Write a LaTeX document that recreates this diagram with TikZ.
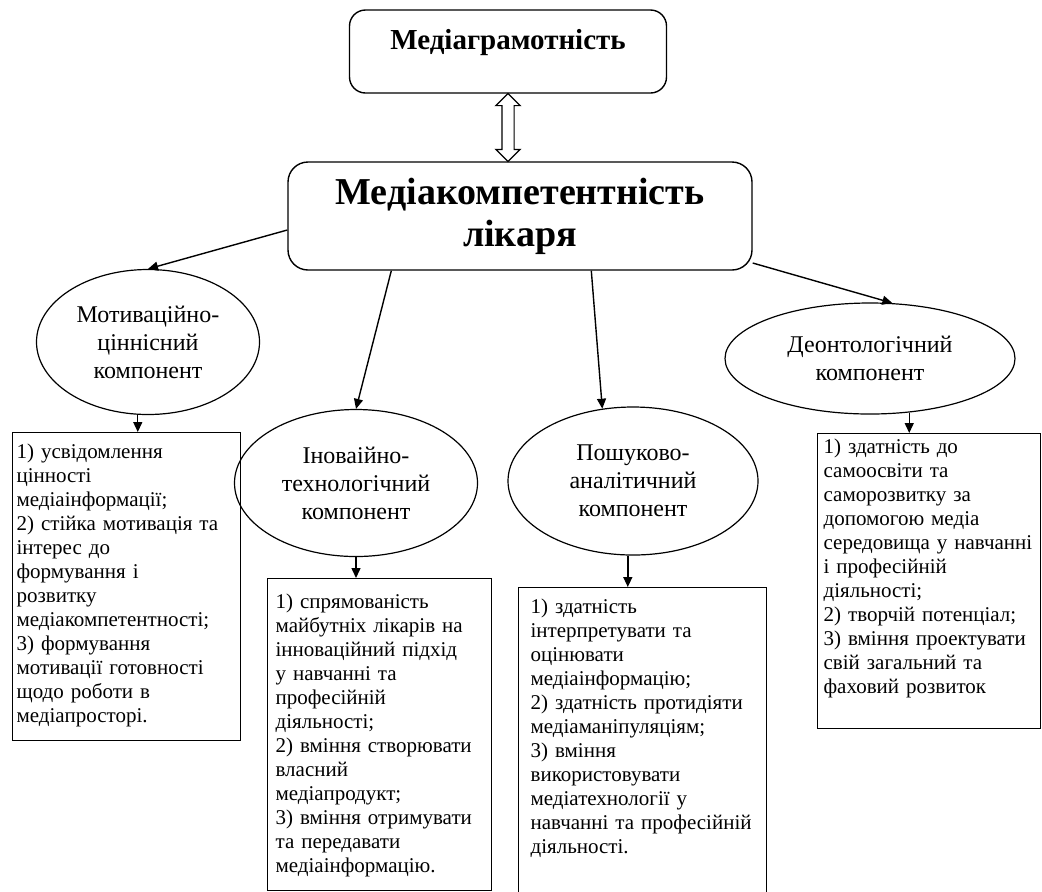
\documentclass[tikz,border=0pt]{standalone}
\usepackage{fontspec}
\setmainfont{Liberation Serif}
\usetikzlibrary{shapes.geometric,shapes.arrows,arrows.meta,calc}

\begin{document}
\begin{tikzpicture}[x=0.5pt,y=-0.5pt,%
% common options for the rounded boxes:
rbox/.style = {draw, rounded corners=8pt, align=center, line width=0.7pt},
% common options for the ellipses:
oval/.style = {ellipse, draw, align=center, inner sep=0, line width=0.6pt,
            font=\fontsize{12}{14}\selectfont},
% common options for the lists:
listbox/.style = {draw, align=left, anchor=north west, text height=8pt,
            font=\fontsize{10.5}{12}\selectfont, line width=0.6pt},
arr/.style = {-{Triangle[length=5pt,width=4.5pt]}, line width=0.7pt}]
\useasboundingbox (0,0) rectangle (1042,891);

\node[rbox, minimum width=158.5pt, minimum height=41.5pt, text depth=12pt,
      font=\fontsize{14.5}{17}\selectfont\bfseries] (T) at (508,51.5) {Медіаграмотність};
\node[rbox, rounded corners=10pt, minimum width=232pt, minimum height=54pt,
      font=\fontsize{19}{21}\selectfont\bfseries] (M) at (520,216) {Медіакомпетентність\\лікаря};

\node[double arrow, draw, fill=white, rotate=90, minimum height=34pt, minimum width=11.5pt,
      inner sep=2.75pt, double arrow head extend=3pt, line width=0.6pt]
      (DA) at ($(T.south)!0.5!(T.south |- M.north)$) {};

\node[oval, minimum width=111.5pt, minimum height=72.5pt] (E1) at (148,342) {Мотиваційно-\\ціннісний\\компонент};
\node[oval, minimum width=121.5pt, minimum height=73.5pt] (E2) at (356,483) {Іноваійно-\\технологічний\\компонент};
\node[oval, minimum width=125pt, minimum height=74pt] (E3) at (633,481) {Пошуково-\\аналітичний\\компонент};
\node[oval, minimum width=145pt, minimum height=55.5pt] (E4) at (870,358.5) {Деонтологічний\\компонент};

\node[listbox, inner xsep=2pt, inner ysep=5pt, text width=110pt, text depth=136pt] (B1) at (12,432)
  {1) усвідомлення\\цінності\\медіаінформації;\\2) стійка мотивація та\\інтерес до\\формування і\\розвитку\\медіакомпетентності;\\3) формування\\мотивації готовності\\щодо роботи в\\медіапросторі.};
\node[listbox, inner xsep=4pt, inner ysep=7pt, text width=104pt, text depth=134pt] (B2) at (267,578)
  {1) спрямованість\\майбутніх лікарів на\\інноваційний підхід\\у навчанні та\\професійній\\діяльності;\\2) вміння створювати\\власний\\медіапродукт;\\3) вміння отримувати\\та передавати\\медіаінформацію.};
\node[listbox, inner xsep=6pt, inner ysep=5pt, text width=112pt, text depth=138.5pt] (B3) at (518,587)
  {1) здатність\\інтерпретувати та\\оцінювати\\медіаінформацію;\\2) здатність протидіяти\\медіаманіпуляціям;\\3) вміння\\використовувати\\медіатехнології у\\навчанні та професійній\\діяльності.};
\node[listbox, inner xsep=3pt, inner ysep=2pt, text width=105.5pt, text depth=135.5pt] (B4) at (817,433)
  {1) здатність до\\самоосвіти та\\саморозвитку за\\допомогою медіа\\середовища у навчанні\\і професійній\\діяльності;\\2) творчій потенціал;\\3) вміння проектувати\\свій загальний та\\фаховий розвиток};

\draw[arr] ([yshift=-7pt]M.west) -- (E1.north);
\draw[arr] ([xshift=52pt]M.south west) -- (E2.north);
\draw[arr] ([xshift=152pt]M.south west) -- (E3.113);
\draw[arr] ([yshift=-23.5pt]M.east) -- (E4.68);

\draw[arr] (E1.-98) -- (E1.-98 |- B1.north);
\draw[arr] (E2.south) -- (E2.south |- B2.north);
\draw[arr] (E3.-94) -- (E3.-94 |- B3.north);
\draw[arr] (E4.-54) -- (E4.-54 |- B4.north);
\end{tikzpicture}
\end{document}
